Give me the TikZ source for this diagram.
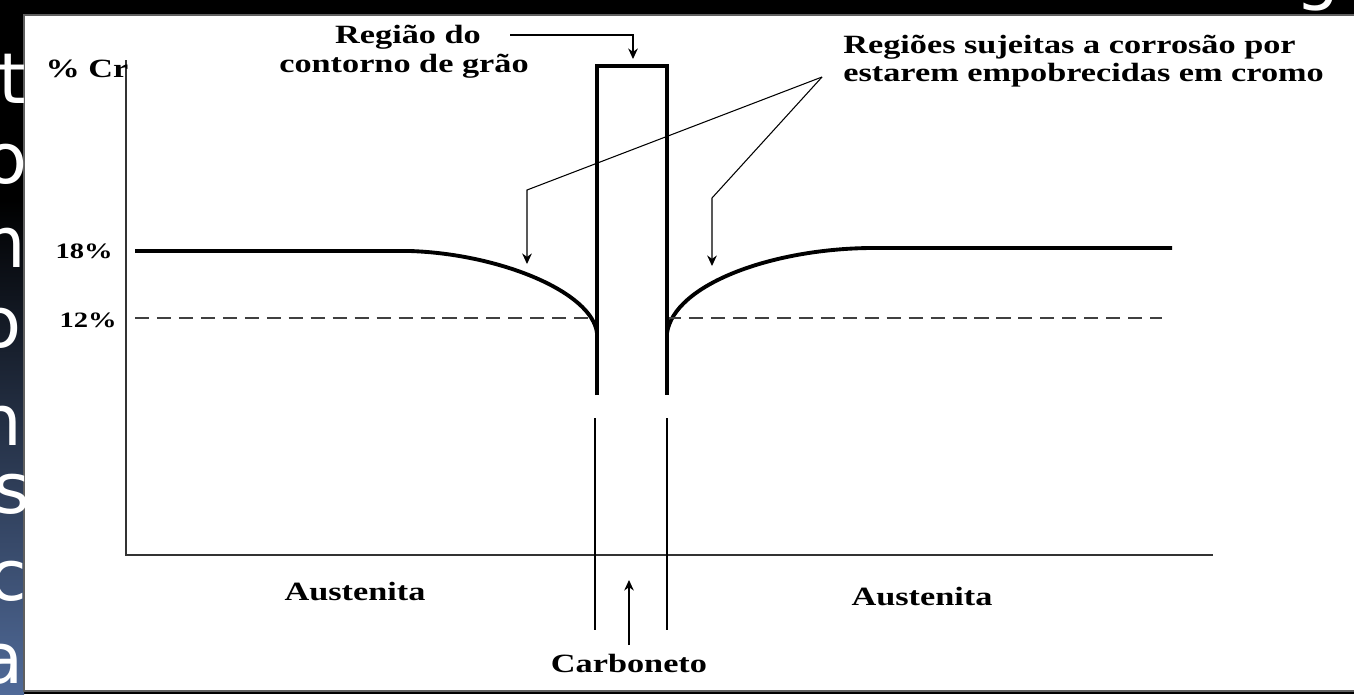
\documentclass[tikz,border=0pt]{standalone}
\usepackage{fontspec}
\newfontfamily\lblfont{Liberation Serif}[FakeStretch=1.3]
\newfontfamily\slidefont{DejaVu Sans}
\usetikzlibrary{arrows.meta, positioning}
\definecolor{stripblue}{RGB}{80,106,152}
\definecolor{framegray}{RGB}{95,95,95}

\begin{document}
\begin{tikzpicture}[x=0.02cm, y=-0.02cm]
    % Define styles
    \tikzset{
        lbl/.style={font=\lblfont\bfseries\fontsize{15}{18}\selectfont, inner sep=0pt, anchor=base},
        pct/.style={font=\lblfont\bfseries\fontsize{12.5}{14}\selectfont, inner sep=0pt, anchor=base east},
        axis/.style={draw=black!80, line width=1.1pt},
        profile/.style={draw=black, line width=2.2pt},
        limit/.style={draw=black!75, line width=1.1pt, dash pattern=on 8pt off 4.5pt},
        guide/.style={draw=black, line width=0.8pt},
        pointer/.style={draw=black, line width=0.6pt, -{Stealth[length=6pt, width=5.5pt]}},
        slidetxt/.style={font=\slidefont\fontsize{40}{48}\selectfont, text=white, inner sep=0pt, anchor=base east}
    }
    \useasboundingbox (0,0) rectangle (1354,694);
    \clip (0,0) rectangle (1354,694);

    % Slide background and frame
    \fill[black] (0,0) rectangle (1354,694);
    \shade[top color=black, bottom color=stripblue] (0,200) rectangle (24,694);
    \filldraw[fill=white, draw=framegray, line width=1.2pt] (24,15) rectangle (1370,691);

    % Axes
    \coordinate (ytop) at (126,60);
    \coordinate (origin) at (126,555);
    \coordinate (xend) at (1213,555);
    \draw[axis] (ytop) -- (origin) -- (xend);

    % Chromium profile
    \draw[profile] (135,251) -- (410,251)
        .. controls (500,254) and (592,292) .. (597,333);
    \draw[profile] (667,333) .. controls (674,285) and (770,249) .. (870,248) -- (1172,248);
    \draw[limit] (135,318) -- (597,318);
    \draw[limit] (667,318) -- (1162,318);

    % Carbide at the grain boundary
    \draw[profile] (597,395) -- (597,66) -- (667,66) -- (667,395);
    \draw[guide] (595,418) -- (595,630);
    \draw[guide] (667,418) -- (667,630);

    % Labels
    \node[lbl] (cr) at (87,77) {\% Cr};
    \node[pct] (p18) at (113,258) {18\%};
    \node[pct] (p12) at (117,327) {12\%};
    \node[lbl] (grain1) at (408,43) {Região do};
    \node[lbl] (grain2) at (404,72) {contorno de grão};
    \node[lbl, anchor=base west] (corr1) at (843,53) {Regiões sujeitas a corrosão por};
    \node[lbl, anchor=base west] (corr2) at (843,81) {estarem empobrecidas em cromo};
    \node[lbl] (aust1) at (355,600) {Austenita};
    \node[lbl] (aust2) at (922,605) {Austenita};
    \node[lbl] (carb) at (629,672) {Carboneto};

    % Pointers
    \coordinate (gstart) at (510,35);
    \coordinate (gbend) at (633,35);
    \coordinate (ghit) at (633,59);
    \draw[pointer] (gstart) -- (gbend) -- (ghit);
    \coordinate (ctip) at (822,77);
    \coordinate (lbend) at (527,190);
    \coordinate (lhit) at (527,264);
    \coordinate (rbend) at (712,198);
    \coordinate (rhit) at (712,266);
    \draw[pointer] (ctip) -- (lbend) -- (lhit);
    \draw[pointer] (ctip) -- (rbend) -- (rhit);
    \coordinate (cbot) at (629,645);
    \coordinate (ctop) at (629,580);
    \draw[pointer] (cbot) -- (ctop);

    % Slide text showing through
    \node[slidetxt] (s1) at (26,103) {t};
    \node[slidetxt] (s2) at (28,183) {o};
    \node[slidetxt] (s3) at (26,267) {m};
    \node[slidetxt] (s4) at (22,347) {o};
    \node[slidetxt] (s5) at (22,445) {n};
    \node[slidetxt] (s6) at (30,513) {s};
    \node[slidetxt] (s7) at (27,600) {c};
    \node[slidetxt] (s8) at (24,683) {a};
    \node[slidetxt, anchor=base] (s9) at (1318,-4) {g};
\end{tikzpicture}
\end{document}
